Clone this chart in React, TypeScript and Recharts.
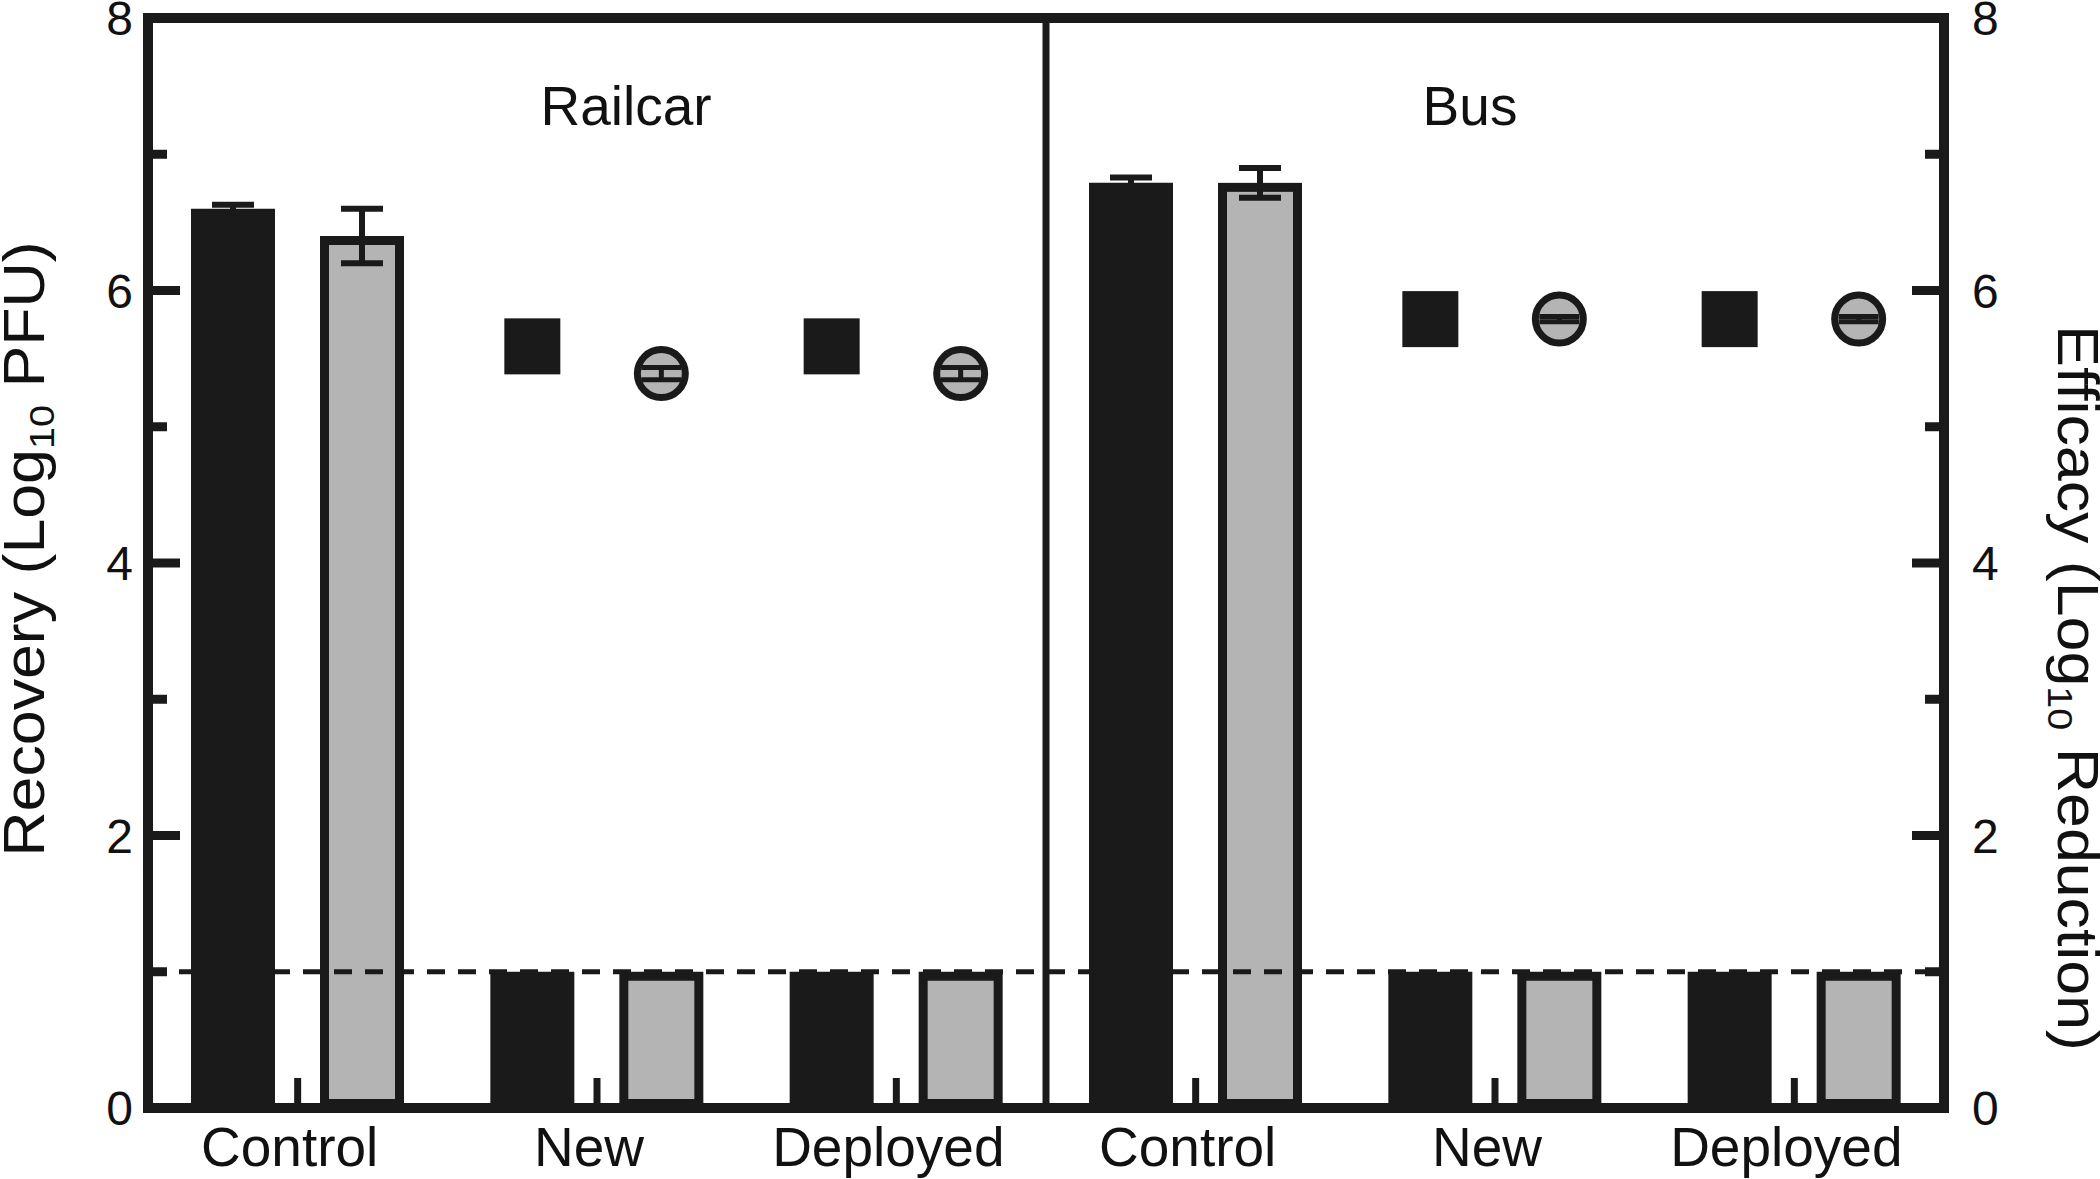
import React from 'react';
import { ComposedChart, Bar, XAxis, YAxis, ReferenceLine, ErrorBar } from 'recharts';

// categories are "panel|group" so the two panels stay unique on one axis
const categories = ['Railcar|Control', 'Railcar|New', 'Railcar|Deployed', 'Bus|Control', 'Bus|New', 'Bus|Deployed'];

// recovery (left axis, log10 PFU)
const recoveryBlack = [6.6, 1.0, 1.0, 6.79, 1.0, 1.0];
const recoveryBlackErr = [0.03, null, null, 0.04, null, null];
const recoveryGray = [6.4, 1.0, 1.0, 6.79, 1.0, 1.0];
const recoveryGrayErr = [0.2, null, null, 0.11, null, null];

// efficacy (right axis, log10 reduction)
const efficacyBlack = [null, 5.59, 5.59, null, 5.79, 5.79];
const efficacyGray = [null, 5.39, 5.39, null, 5.79, 5.79];
const efficacyGrayErr = [null, 0.045, 0.045, null, 0.02, 0.02];

const yTicks = [0, 1, 2, 3, 4, 5, 6, 7, 8];
const detectionLimit = 1;

const data = categories.map((cat, i) => ({
  cat,
  rb: recoveryBlack[i],
  rbErr: recoveryBlackErr[i],
  rg: recoveryGray[i],
  rgErr: recoveryGrayErr[i],
  eb: efficacyBlack[i],
  eg: efficacyGray[i],
  egErr: efficacyGrayErr[i],
}));

const INK = '#1a1a1a';
const GRAY = '#b4b4b4';
const FONT = '"Liberation Sans", Arial, Helvetica, sans-serif';
const W = 2100;
const H = 1179;

const GrayBar = (p: any) => {
  const sw = 9;
  if (!p.height || p.height <= sw) return <g />;
  return (
    <rect
      x={p.x + sw / 2}
      y={p.y + sw / 2}
      width={p.width - sw}
      height={p.height - sw}
      fill={GRAY}
      stroke={INK}
      strokeWidth={sw}
    />
  );
};

const SquareMark = (p: any) => {
  if (p.payload?.eb == null) return <g />;
  const cx = p.x + p.width / 2;
  return <rect x={cx - 28} y={p.y - 28} width={56} height={56} fill={INK} />;
};

const CircleMark = (p: any) => {
  if (p.payload?.eg == null) return <g />;
  const cx = p.x + p.width / 2;
  return <circle cx={cx} cy={p.y} r={24} fill={GRAY} stroke={INK} strokeWidth={7} />;
};

const XTick = (p: any) => {
  const { x, y, payload } = p;
  const label = String(payload.value).split('|')[1];
  return (
    <g>
      <line x1={x} x2={x} y1={y} y2={y - 30} stroke={INK} strokeWidth={7} />
      <text x={x - 8} y={y + 58} textAnchor="middle" fontSize={55} fontFamily={FONT} fill="#111">
        {label}
      </text>
    </g>
  );
};

const LeftTick = (p: any) => {
  const { x, y, payload } = p;
  const major = payload.value % 2 === 0;
  return (
    <g>
      <line x1={x} x2={x + (major ? 32 : 19)} y1={y} y2={y} stroke={INK} strokeWidth={9} />
      {major && (
        <text x={x - 15} y={y} dy="0.36em" textAnchor="end" fontSize={48} fontFamily={FONT} fill="#111">
          {payload.value}
        </text>
      )}
    </g>
  );
};

const RightTick = (p: any) => {
  const { x, y, payload } = p;
  const major = payload.value % 2 === 0;
  return (
    <g>
      <line x1={x} x2={x - (major ? 32 : 19)} y1={y} y2={y} stroke={INK} strokeWidth={9} />
      {major && (
        <text x={x + 28} y={y} dy="0.36em" textAnchor="start" fontSize={48} fontFamily={FONT} fill="#111">
          {payload.value}
        </text>
      )}
    </g>
  );
};

const frameLine = { stroke: INK, strokeWidth: 10, strokeLinecap: 'square' as const };

export default function App() {
  return (
    <div style={{ position: 'absolute', left: 0, top: 0, width: W, height: H, background: '#fff' }}>
      <ComposedChart
        width={W}
        height={H}
        data={data}
        margin={{ top: 18, right: 0, bottom: 0, left: 0 }}
        barGap={45}
        barCategoryGap={0}
      >
        <XAxis
          xAxisId="main"
          dataKey="cat"
          height={71}
          interval={0}
          tickSize={0}
          tickMargin={0}
          tick={<XTick />}
          axisLine={frameLine}
          tickLine={false}
        />
        <XAxis xAxisId="pts" dataKey="cat" hide />
        <YAxis
          yAxisId="left"
          domain={[0, 8]}
          ticks={yTicks}
          interval={0}
          width={148}
          tickSize={0}
          tickMargin={0}
          tick={<LeftTick />}
          axisLine={frameLine}
          tickLine={false}
          allowDataOverflow
        />
        <YAxis
          yAxisId="right"
          orientation="right"
          domain={[0, 8]}
          ticks={yTicks}
          interval={0}
          width={156}
          tickSize={0}
          tickMargin={0}
          tick={<RightTick />}
          axisLine={frameLine}
          tickLine={false}
          allowDataOverflow
        />
        <ReferenceLine
          xAxisId="main"
          yAxisId="left"
          y={detectionLimit}
          stroke={INK}
          strokeWidth={5}
          strokeDasharray="18 13"
        />
        <ReferenceLine xAxisId="main" yAxisId="left" y={8} {...frameLine} />
        <ReferenceLine
          xAxisId="main"
          yAxisId="left"
          x="Bus|Control"
          position="start"
          stroke={INK}
          strokeWidth={7}
        />
        <Bar xAxisId="main" yAxisId="left" dataKey="rb" fill={INK} barSize={84} isAnimationActive={false}>
          <ErrorBar dataKey="rbErr" width={21} stroke={INK} strokeWidth={6} isAnimationActive={false} />
        </Bar>
        <Bar xAxisId="main" yAxisId="left" dataKey="rg" barSize={84} shape={<GrayBar />} isAnimationActive={false}>
          <ErrorBar dataKey="rgErr" width={21} stroke={INK} strokeWidth={6} isAnimationActive={false} />
        </Bar>
        <Bar xAxisId="pts" yAxisId="right" dataKey="eb" barSize={84} shape={<SquareMark />} isAnimationActive={false} />
        <Bar xAxisId="pts" yAxisId="right" dataKey="eg" barSize={84} shape={<CircleMark />} isAnimationActive={false}>
          <ErrorBar dataKey="egErr" width={20} stroke={INK} strokeWidth={5} isAnimationActive={false} />
        </Bar>
      </ComposedChart>
      <svg
        width={W}
        height={H}
        style={{ position: 'absolute', left: 0, top: 0, pointerEvents: 'none' }}
        fontFamily={FONT}
        fill="#111"
      >
        <text x={626} y={125} textAnchor="middle" fontSize={55}>Railcar</text>
        <text x={1470} y={125} textAnchor="middle" fontSize={55}>Bus</text>
        <text x={0} y={0} textAnchor="middle" fontSize={57} transform="translate(44 549) rotate(-90) scale(1.1 1)">
          Recovery (Log<tspan fontSize={36} dy={10}>10</tspan>
          <tspan dy={-10}> PFU)</tspan>
        </text>
        <text x={0} y={0} textAnchor="middle" fontSize={57} transform="translate(2058 688) rotate(90) scale(1.1 1)">
          Efficacy (Log<tspan fontSize={36} dy={10}>10</tspan>
          <tspan dy={-10}> Reduction)</tspan>
        </text>
      </svg>
    </div>
  );
}
